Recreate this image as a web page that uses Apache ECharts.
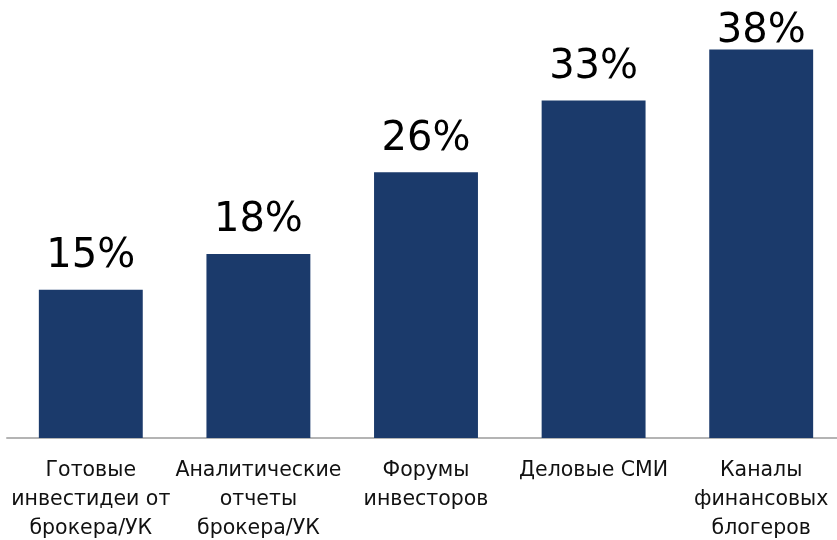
<!DOCTYPE html>
<html>
<head>
<meta charset="utf-8">
<script src="https://cdn.jsdelivr.net/npm/echarts@6/dist/echarts.min.js"></script>
<style>
    html, body { margin: 0; padding: 0; background: #fff; }
    #chart { width: 837px; height: 540px; }
</style>
</head>
<body>
<div id="chart"></div>
<script>
    // категории по оси X
    var categories = [
        'Готовые\nинвестидеи от\nброкера/УК',
        'Аналитические\nотчеты\nброкера/УК',
        'Форумы\nинвесторов',
        'Деловые СМИ',
        'Каналы\nфинансовых\nблогеров'
    ]
    // доли, %
    var values = [14.5, 18, 26, 33, 38]

    // у последнего столбца подпись прижата к столбцу (упирается в верх)
    var seriesData = values.map(function (v, i) {
        if (i === values.length - 1) {
            return { value: v, label: { distance: -2 } }
        }
        return v
    })

    var chart = echarts.init(document.getElementById('chart'))
    chart.setOption({
        animation: false,
        grid: {
            left: 7,
            width: 838,
            top: 29,
            bottom: 102,
            outerBoundsMode: 'none'
        },
        xAxis: {
            type: 'category',
            data: categories,
            axisTick: { show: false },
            axisLine: { lineStyle: { color: '#b4b4b4', width: 2 } },
            axisLabel: {
                interval: 0,
                margin: 18,
                color: '#111',
                fontFamily: 'DejaVu Sans',
                fontSize: 20.5,
                lineHeight: 29
            }
        },
        yAxis: {
            type: 'value',
            min: 0,
            max: 40,
            show: false,
            splitLine: { show: false }
        },
        series: [{
            type: 'bar',
            data: seriesData,
            barWidth: '62%',
            itemStyle: { color: '#1b3a6b' },
            label: {
                show: true,
                position: 'top',
                distance: 13,
                color: '#000',
                fontFamily: 'DejaVu Sans',
                fontSize: 40,
                formatter: function (p) {
                    return Math.round(p.value) + '%'
                }
            }
        }]
    })
</script>
</body>
</html>
